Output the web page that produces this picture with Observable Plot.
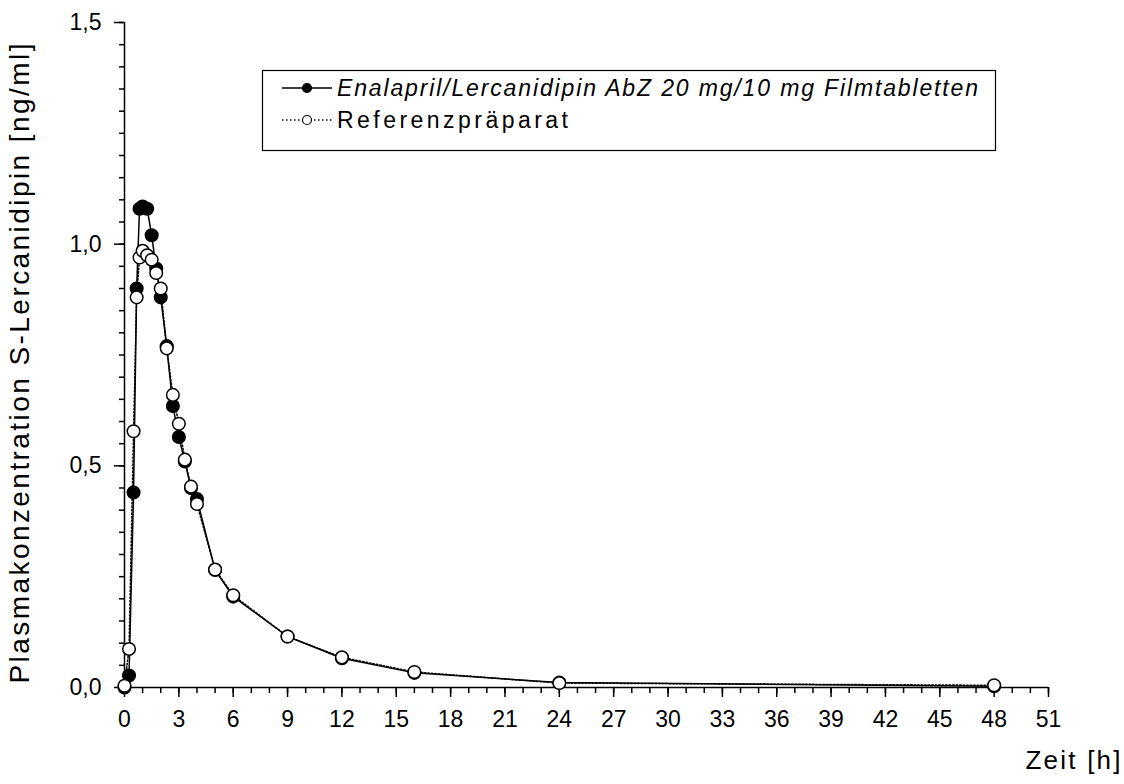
<!DOCTYPE html>
<html><head><meta charset="utf-8">
<script src="https://cdn.jsdelivr.net/npm/d3@7"></script>
<script src="https://cdn.jsdelivr.net/npm/@observablehq/plot@0.6"></script>
<style>
body{margin:0;background:#fff;}
#wrap{position:relative;width:1124px;height:784px;font-family:"Liberation Sans",Arial,sans-serif;}
#wrap svg.leg{position:absolute;left:0;top:0;pointer-events:none;}
</style></head><body><div id="wrap"></div>
<script>
// Sampling times [h]
const times = [0,0.25,0.5,0.67,0.83,1,1.25,1.5,1.75,2,2.33,2.67,3,3.33,3.67,4,5,6,9,12,16,24,48];
// Enalapril/Lercanidipin AbZ 20 mg/10 mg Filmtabletten (filled)
const testConc = [0,0.027,0.44,0.90,1.08,1.085,1.08,1.02,0.945,0.88,0.77,0.635,0.565,0.51,0.45,0.425,0.265,0.205,0.115,0.066,0.033,0.011,0.003];
// Referenzpräparat (open)
const refConc = [0.004,0.087,0.578,0.88,0.97,0.985,0.975,0.965,0.935,0.90,0.765,0.66,0.595,0.514,0.453,0.414,0.266,0.208,0.115,0.068,0.035,0.010,0.005];
const seriesNames = ["Enalapril/Lercanidipin AbZ 20 mg/10 mg Filmtabletten","Referenzpräparat"];
const xMajorTicks = [0,3,6,9,12,15,18,21,24,27,30,33,36,39,42,45,48,51];
const xMinorTicks = d3.range(0,52,1);
const yMajorTicks = [0,0.5,1.0,1.5];
const yMinorTicks = d3.range(0,1.5001,0.05);
const xTitle = "Zeit [h]";
const yTitle = "Plasmakonzentration S-Lercanidipin [ng/ml]";

const data = times.map((t,i)=>({t, test: testConc[i], ref: refConc[i]}));
const fmt = d => d.toFixed(1).replace(".", ",");
const font = "Liberation Sans, Arial, sans-serif";
const tickFont = "Liberation Sans Narrow, Liberation Sans, Arial, sans-serif";

const chart = Plot.plot({
  width:1124, height:784,
  marginLeft:124, marginRight:76, marginTop:22, marginBottom:97,
  x:{domain:[0,51]}, y:{domain:[0,1.5]},
  style:{fontFamily:font, background:"#fff", color:"#000"},
  marks:[
    Plot.axisX({ticks:xMinorTicks, tickSize:6, tickFormat:()=>"", label:null, strokeWidth:1.5}),
    Plot.axisX({ticks:xMajorTicks, tickSize:10, tickPadding:13, tickFormat:d=>String(d), label:null, fontSize:23, fontFamily:tickFont, strokeWidth:1.5}),
    Plot.axisY({ticks:yMinorTicks, tickSize:5, tickFormat:()=>"", label:null, strokeWidth:1.5}),
    Plot.axisY({ticks:yMajorTicks, tickSize:10, tickPadding:13, tickFormat:fmt, label:null, fontSize:23, fontFamily:tickFont, strokeWidth:1.5}),
    Plot.ruleY([0], {x1:0, x2:51, stroke:"#000", strokeWidth:1.5}),
    Plot.ruleX([0], {y1:0, y2:1.5, stroke:"#000", strokeWidth:1.5}),
    Plot.line(data, {x:"t", y:"test", stroke:"#000", strokeWidth:1.5}),
    Plot.line(data, {x:"t", y:"ref", stroke:"#000", strokeWidth:1.5, strokeDasharray:"1.5,2"}),
    Plot.dot(data, {x:"t", y:"test", r:6.3, fill:"#000", stroke:"#000"}),
    Plot.dot(data, {x:"t", y:"ref", r:6.3, fill:"#fff", stroke:"#000", strokeWidth:1.5}),
    Plot.text([xTitle], {frameAnchor:"bottom-right", dx:72, dy:81, textAnchor:"end", fontSize:26, fontFamily:tickFont}),
    Plot.text([yTitle], {frameAnchor:"bottom-left", rotate:-90, dx:-96, dy:-4, textAnchor:"start", fontSize:28})
  ]
});
for (const t of chart.querySelectorAll("text")) {
  if (t.textContent === yTitle) { t.setAttribute("textLength", 640); t.setAttribute("lengthAdjust","spacing"); }
  if (t.textContent === xTitle) { t.setAttribute("textLength", 95); t.setAttribute("lengthAdjust","spacing"); }
}
const wrap = document.getElementById("wrap");
wrap.appendChild(chart);

// Legend
const leg = d3.select(wrap).append("svg").attr("class","leg").attr("width",1124).attr("height",784)
  .style("font-family", font);
leg.append("rect").attr("x",262.5).attr("y",70.5).attr("width",733).attr("height",80)
  .attr("fill","#fff").attr("stroke","#000").attr("stroke-width",1.2);
const rows = [
  {name: seriesNames[0], y:88, dash:null, fill:"#000", italic:true, len:641},
  {name: seriesNames[1], y:120, dash:"1.5,2.5", fill:"#fff", italic:false, len:231}
];
for (const r of rows) {
  leg.append("line").attr("x1",282).attr("x2",332).attr("y1",r.y).attr("y2",r.y)
    .attr("stroke","#000").attr("stroke-width",1.5).attr("stroke-dasharray", r.dash);
  leg.append("circle").attr("cx",307).attr("cy",r.y).attr("r",4.5).attr("fill",r.fill).attr("stroke","#000").attr("stroke-width",1.2);
  leg.append("text").attr("x",337).attr("y",r.y).attr("dy","0.35em").attr("font-size",23)
    .attr("font-style", r.italic ? "italic" : "normal").attr("textLength", r.len).attr("lengthAdjust","spacing")
    .text(r.name);
}
</script></body></html>
